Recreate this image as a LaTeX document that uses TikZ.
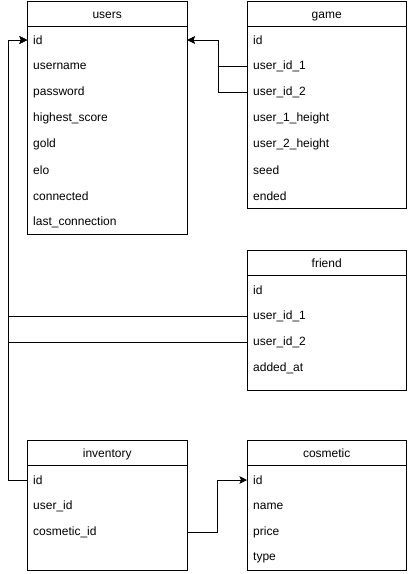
\documentclass[tikz,border=0pt]{standalone}
\usepackage{fontspec}
\setmainfont{Liberation Sans}
\usetikzlibrary{arrows.meta}
\tikzset{
  tablebox/.style={draw, line width=1pt, inner sep=0pt, minimum width=160pt, anchor=north west},
  headcell/.style={minimum width=160pt, minimum height=25pt, inner sep=0pt, text height=9pt, text depth=0pt, anchor=north west, font=\fontsize{12}{14}\selectfont},
  fieldrow/.style={minimum height=26pt, text width=148pt, inner xsep=6pt, inner ysep=0pt, anchor=west, align=left, font=\fontsize{12}{14}\selectfont},
  sepline/.style={line width=1pt},
  fk/.style={line width=1pt, -{Stealth[length=7.5pt,width=7.5pt,inset=1.5pt]}}
}
\begin{document}
\begin{tikzpicture}[x=1pt,y=-1pt]
\useasboundingbox (0,0) rectangle (408,574);
% users
\node[tablebox, minimum height=233pt] (users) at (27,1) {};
\node[headcell] (usersh) at (27,1) {users};
\draw[sepline] (usersh.south west) -- (usersh.south east);
\node[fieldrow] (uid) at (27,40) {id};
\node[fieldrow] (uname) at (27,66) {username};
\node[fieldrow] (upass) at (27,92) {password};
\node[fieldrow] (uhs) at (27,118) {highest\_score};
\node[fieldrow] (ugold) at (27,144) {gold};
\node[fieldrow] (uelo) at (27,170) {elo};
\node[fieldrow] (ucon) at (27,196) {connected};
\node[fieldrow] (ulast) at (27,222) {last\_connection};
% game
\node[tablebox, minimum height=207pt, minimum width=159pt] (game) at (247,1) {};
\node[headcell, minimum width=159pt] (gameh) at (247,1) {game};
\draw[sepline] (gameh.south west) -- (gameh.south east);
\node[fieldrow] (gid) at (247,40) {id};
\node[fieldrow] (gu1) at (247,66) {user\_id\_1};
\node[fieldrow] (gu2) at (247,92) {user\_id\_2};
\node[fieldrow] (gh1) at (247,118) {user\_1\_height};
\node[fieldrow] (gh2) at (247,144) {user\_2\_height};
\node[fieldrow] (gseed) at (247,170) {seed};
\node[fieldrow] (gend) at (247,196) {ended};
% friend
\node[tablebox, minimum height=140pt, minimum width=159pt] (friend) at (247,250) {};
\node[headcell, minimum width=159pt] (friendh) at (247,250) {friend};
\draw[sepline] (friendh.south west) -- (friendh.south east);
\node[fieldrow] (fid) at (247,290) {id};
\node[fieldrow] (fu1) at (247,316) {user\_id\_1};
\node[fieldrow] (fu2) at (247,342) {user\_id\_2};
\node[fieldrow] (fadd) at (247,368) {added\_at};
% inventory
\node[tablebox, minimum height=130pt] (inv) at (27,440) {};
\node[headcell] (invh) at (27,440) {inventory};
\draw[sepline] (invh.south west) -- (invh.south east);
\node[fieldrow] (iid) at (27,480) {id};
\node[fieldrow] (iuid) at (27,506) {user\_id};
\node[fieldrow] (icid) at (27,532) {cosmetic\_id};
% cosmetic
\node[tablebox, minimum height=130pt, minimum width=159pt] (cos) at (247,440) {};
\node[headcell, minimum width=159pt] (cosh) at (247,440) {cosmetic};
\draw[sepline] (cosh.south west) -- (cosh.south east);
\node[fieldrow] (cid) at (247,480) {id};
\node[fieldrow] (cname) at (247,506) {name};
\node[fieldrow] (cprice) at (247,532) {price};
\node[fieldrow] (ctype) at (247,558) {type};
% bend coordinates
\coordinate (gbend) at (218,40);
\coordinate (lbend) at (8,40);
\coordinate (cbend) at (217.5,480);
% connectors
\draw[fk] (gu1.west) -| (gbend) -- (uid.east);
\draw[fk] (gu2.west) -| (gbend) -- (uid.east);
\draw[fk] (fu1.west) -| (lbend) -- (uid.west);
\draw[fk] (fu2.west) -| (lbend) -- (uid.west);
\draw[fk] (iid.west) -| (lbend) -- (uid.west);
\draw[fk] (icid.east) -| (cbend) -- (cid.west);
\end{tikzpicture}
\end{document}
